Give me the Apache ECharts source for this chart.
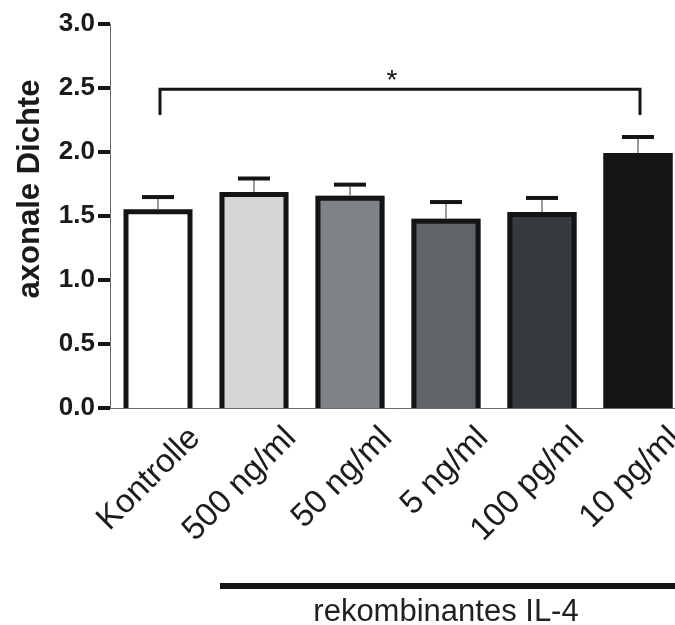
<!DOCTYPE html>
<html>
<head>
<meta charset="utf-8">
<script src="https://cdn.jsdelivr.net/npm/echarts@6/dist/echarts.min.js"></script>
<style>
  html, body { margin: 0; padding: 0; background: #fff; }
  #chart { width: 675px; height: 625px; }
</style>
</head>
<body>
<div id="chart"></div>
<script>
// data
const categories = ['Kontrolle', '500 ng/ml', '50 ng/ml', '5 ng/ml', '100 pg/ml', '10 pg/ml']
const means = [1.552, 1.688, 1.659, 1.479, 1.531, 1.992]
const sem = [0.096, 0.105, 0.086, 0.13, 0.11, 0.125]
const barColors = ['#ffffff', '#d5d6d8', '#7f8387', '#5f6468', '#353b3e', '#141516']
// significance bracket: from category, to category, top value, foot value
const bracket = [[0, 5, 2.49, 2.29]]
const starText = '*'
const yTitle = 'axonale Dichte'
const groupTitle = 'rekombinantes IL-4'

const font = 'Liberation Sans, Arial, Helvetica, sans-serif'
const ink = '#141414'

let myChart = echarts.init(document.getElementById('chart'))

let options = {
  animation: false,
  textStyle: { fontFamily: font },
  grid: [
    // plotting grid
    { left: 110, top: 24, width: 576, height: 384, outerBoundsMode: 'none' },
    // same grid shifted right, only used for the rotated labels
    { left: 147, top: 24, width: 576, height: 384, outerBoundsMode: 'none' },
  ],
  xAxis: [
    {
      gridIndex: 0,
      type: 'category',
      data: categories,
      axisLine: { lineStyle: { color: '#666', width: 1 } },
      axisTick: { alignWithLabel: true, length: 10, lineStyle: { color: ink, width: 5 } },
      axisLabel: { show: false },
      splitLine: { show: false },
    },
    {
      gridIndex: 1,
      type: 'category',
      data: categories,
      axisLine: { show: false },
      axisTick: { show: false },
      axisLabel: {
        interval: 0,
        rotate: 45,
        margin: 25,
        fontSize: 33,
        color: '#1e1b1c',
        fontFamily: font,
      },
    },
  ],
  yAxis: [
    {
      gridIndex: 0,
      type: 'value',
      min: 0,
      max: 3,
      interval: 0.5,
      axisLine: { show: true, lineStyle: { color: '#666', width: 1 } },
      axisTick: { show: true, length: 12, lineStyle: { color: ink, width: 4 } },
      axisLabel: {
        margin: 15,
        fontSize: 26,
        fontWeight: 'bold',
        color: '#1a1a1a',
        fontFamily: font,
        formatter: (v) => v.toFixed(1),
      },
      splitLine: { show: false },
    },
    { gridIndex: 1, type: 'value', min: 0, max: 3, show: false },
  ],
  graphic: [
    {
      type: 'text',
      x: 30,
      y: 189,
      rotation: Math.PI / 2,
      style: {
        text: yTitle,
        fontSize: 31,
        fontWeight: 'bold',
        fontFamily: font,
        fill: '#1a1a1a',
        align: 'center',
        verticalAlign: 'middle',
      },
    },
    {
      type: 'rect',
      shape: { x: 220, y: 583, width: 455, height: 6 },
      style: { fill: ink },
    },
    {
      type: 'text',
      x: 446,
      y: 612,
      style: {
        text: groupTitle,
        fontSize: 31,
        fontFamily: font,
        fill: '#231f20',
        align: 'center',
        verticalAlign: 'middle',
      },
    },
  ],
  series: [
    {
      type: 'bar',
      xAxisIndex: 0,
      yAxisIndex: 0,
      barWidth: 69,
      data: means.map((v, i) => ({ value: v, itemStyle: { color: barColors[i] } })),
      z: 2,
    },
    {
      // bar outline drawn inside the bar, open at the baseline
      type: 'custom',
      xAxisIndex: 0,
      yAxisIndex: 0,
      clip: false,
      z: 3,
      data: means.map((m, i) => [i, m]),
      renderItem: function (params, api) {
        let top = api.coord([api.value(0), api.value(1)])
        let base = api.coord([api.value(0), 0])
        let x1 = top[0] - 32
        let x2 = top[0] + 32
        let yt = top[1] + 2.5
        return {
          type: 'polyline',
          shape: { points: [[x1, base[1]], [x1, yt], [x2, yt], [x2, base[1]]] },
          style: { stroke: ink, lineWidth: 5, fill: null, lineJoin: 'miter' },
        }
      },
    },
    {
      // error bars (mean + SEM)
      type: 'custom',
      xAxisIndex: 0,
      yAxisIndex: 0,
      clip: false,
      z: 4,
      data: means.map((m, i) => [i, m, m + sem[i]]),
      renderItem: function (params, api) {
        let base = api.coord([api.value(0), api.value(1)])
        let top = api.coord([api.value(0), api.value(2)])
        return {
          type: 'group',
          children: [
            {
              type: 'line',
              shape: { x1: base[0], y1: base[1], x2: top[0], y2: top[1] },
              style: { stroke: '#777', lineWidth: 1.5 },
            },
            {
              type: 'rect',
              shape: { x: top[0] - 16, y: top[1] - 2, width: 32, height: 4 },
              style: { fill: ink },
            },
          ],
        }
      },
    },
    {
      // significance bracket with star
      type: 'custom',
      xAxisIndex: 0,
      yAxisIndex: 0,
      clip: false,
      z: 4,
      data: bracket,
      renderItem: function (params, api) {
        let a = api.coord([api.value(0), api.value(2)])
        let b = api.coord([api.value(1), api.value(2)])
        let foot = api.coord([api.value(0), api.value(3)])
        let ax = a[0] + 2
        let bx = b[0] + 2
        return {
          type: 'group',
          children: [
            {
              type: 'polyline',
              shape: { points: [[ax, foot[1]], [ax, a[1]], [bx, b[1]], [bx, foot[1]]] },
              style: { stroke: ink, lineWidth: 3, fill: null },
            },
            {
              type: 'text',
              x: (ax + bx) / 2 - 8,
              y: a[1] - 8,
              style: {
                text: starText,
                fontSize: 28,
                fontFamily: font,
                fill: ink,
                align: 'center',
                verticalAlign: 'middle',
              },
            },
          ],
        }
      },
    },
  ],
}

myChart.setOption(options)
</script>
</body>
</html>
